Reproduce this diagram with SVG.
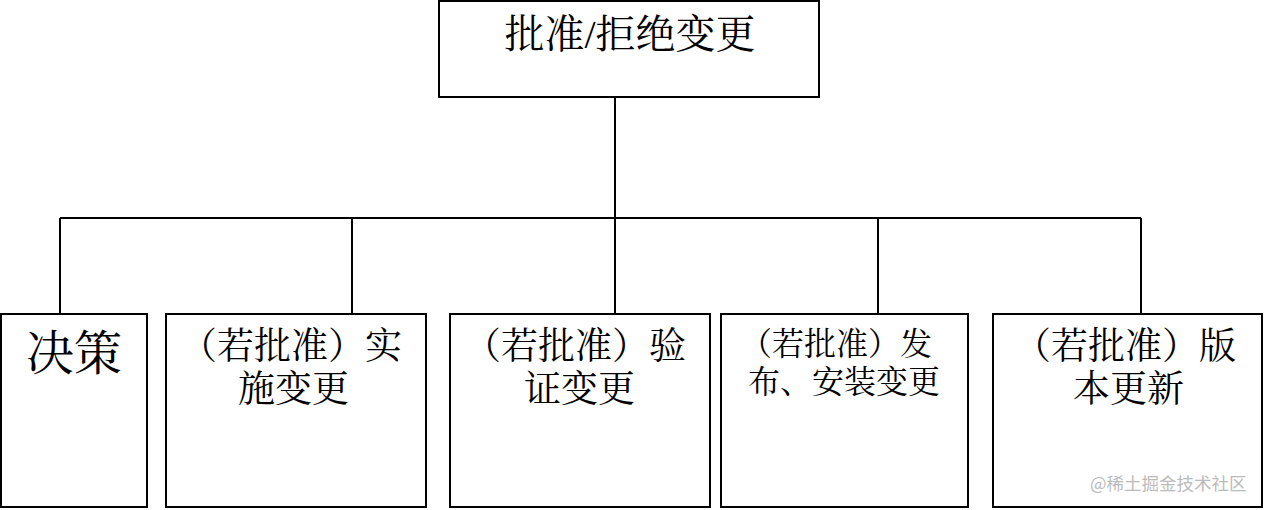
<svg xmlns="http://www.w3.org/2000/svg" width="1266" height="510" viewBox="0 0 1266 510">
<style>
.b{fill:#fff;stroke:#000;stroke-width:2}
.c{fill:none;stroke:#000;stroke-width:2}
text{font-family:"Liberation Serif","Noto Serif CJK SC","Noto Sans CJK SC",serif;fill:#000}
</style>
<rect width="1266" height="510" fill="#fff"/>
<g id="connectors">
<path class="c" d="M615 97V218M60 218H1141M60 218V314M352 218V314M615 218V314M878 218V314M1141 218V314"/>
</g>
<g id="n0"><rect class="b" x="439" y="1" width="380" height="96"/><text x="630" y="48" font-size="40" text-anchor="middle">批准/拒绝变更</text></g>
<g id="n1"><rect class="b" x="1" y="314" width="146" height="193"/><text x="26" y="370" font-size="48">决策</text></g>
<g id="n2"><rect class="b" x="166" y="314" width="260" height="193"/><text x="180" y="359" font-size="37">（若批准）实</text><text x="238" y="402" font-size="37">施变更</text></g>
<g id="n3"><rect class="b" x="450" y="314" width="260" height="193"/><text x="464" y="359" font-size="37">（若批准）验</text><text x="524" y="402" font-size="37">证变更</text></g>
<g id="n4"><rect class="b" x="721" y="314" width="247" height="193"/><text x="740" y="355" font-size="32">（若批准）发</text><text x="748" y="393" font-size="32">布、安装变更</text></g>
<g id="n5"><rect class="b" x="993" y="314" width="269" height="193"/><text x="1014" y="359" font-size="37">（若批准）版</text><text x="1073" y="402" font-size="37">本更新</text></g>
<text x="1090" y="490" font-size="17.5" style="font-family:'Noto Sans CJK SC',sans-serif;fill:#bbb">@稀土掘金技术社区</text>
</svg>
